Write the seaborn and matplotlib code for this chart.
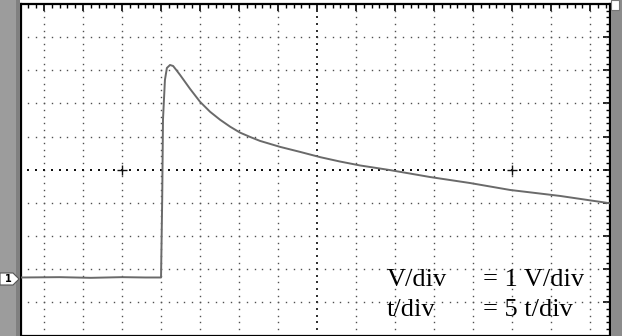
import numpy as np
import pandas as pd
import matplotlib
matplotlib.use("Agg")
import matplotlib.pyplot as plt
from matplotlib.patches import Rectangle, Polygon
import seaborn as sns

# ---- data (time in t units, 5 t per division; voltage in V, 1 V per division)
time = [-2.95, 2.0, 6.0, 10.0, 13.0, 15.0, 15.15, 15.25, 15.5, 15.75, 16.15, 16.55,
        17.05, 17.44, 18.72, 20.0, 21.28, 22.56, 23.85, 25.13, 26.41, 27.69, 30.26,
        32.8, 35.4, 37.9, 40.5, 44.35, 49.5, 54.6, 59.75, 66.15, 72.5]
volts = [-3.25, -3.24, -3.26, -3.24, -3.25, -3.25, -0.88, 1.51, 2.71, 3.07, 3.16, 3.13,
         2.98, 2.86, 2.44, 2.05, 1.75, 1.51, 1.30, 1.12, 0.99, 0.87, 0.69,
         0.54, 0.38, 0.25, 0.13, -0.01, -0.22, -0.40, -0.61, -0.79, -1.01]

label_names = ["V/div", "t/div"]
label_values = ["= 1 V/div", "= 5 t/div"]

x_grid = list(range(0, 71, 5))          # vertical graticule lines
y_grid = [-4, -3, -2, -1, 1, 2, 3, 4]   # horizontal graticule lines
cross_marks = [10, 60]

df = pd.DataFrame({"time": time, "volts": volts})

sns.set_style("white")
W, H = 622, 336
fig = plt.figure(figsize=(W / 100, H / 100), dpi=100)
fig.patch.set_facecolor("white")

# side bars
fig.patches.append(Rectangle((0, 0), 20 / W, 1, transform=fig.transFigure,
                             facecolor="#9c9c9c", edgecolor="none", zorder=0))
fig.patches.append(Rectangle((16 / W, 0), 4 / W, 1, transform=fig.transFigure,
                             facecolor="#808080", edgecolor="none", zorder=0))
fig.patches.append(Rectangle((611 / W, 0), 11 / W, 1, transform=fig.transFigure,
                             facecolor="#8c8c8c", edgecolor="none", zorder=0))

ax = fig.add_axes([21 / W, 0.5 / H, 589 / W, 331.5 / H])
ax.set_facecolor("white")
ax.set_xlim(-2.95, 72.55)
ax.set_ylim(-5.0, 5.0)

# graticule dots
xs_dots = np.arange(-2, 73, 1.0)
ys_dots = np.arange(-5, 5.01, 0.2)
for yv in y_grid:
    ax.plot(xs_dots, [yv] * len(xs_dots), ls="none", marker="s", ms=1.0,
            color="#505050", mew=0)
for xv in x_grid:
    big = xv == 35
    ax.plot([xv] * len(ys_dots), ys_dots, ls="none", marker="s",
            ms=1.5 if big else 1.0, color="#333333" if big else "#505050", mew=0)
# centre horizontal line
ax.plot(xs_dots, [0] * len(xs_dots), ls="none", marker="s", ms=1.8,
        color="#111111", mew=0)
for cx in cross_marks:
    ax.plot([cx], [0], marker="+", ms=7, mew=1.0, color="#111111")

sns.lineplot(data=df, x="time", y="volts", ax=ax, color="#6a6a6a",
             linewidth=1.4, estimator=None, sort=False, zorder=5)

ax.set_xlabel("")
ax.set_ylabel("")
ax.set_xticks(x_grid)
ax.set_yticks(range(-5, 6))
ax.set_xticks(np.arange(-2, 73, 1.0), minor=True)
ax.set_yticks(np.arange(-5, 5.01, 0.2), minor=True)
ax.tick_params(which="both", direction="in", top=True, right=True,
               labelbottom=False, labelleft=False, color="black")
ax.tick_params(which="major", length=5, width=1.2)
ax.tick_params(which="minor", length=3, width=1.0)
for s in ax.spines.values():
    s.set_visible(True)
    s.set_color("black")
    s.set_linewidth(1.6)

# channel marker "1"
pts = [(0, 273), (13, 273), (19, 279), (13, 285), (0, 285)]
fig.patches.append(Polygon([(x / W, 1 - y / H) for x, y in pts], closed=True,
                           transform=fig.transFigure, facecolor="white",
                           edgecolor="#555555", linewidth=0.8, zorder=3))
fig.text(8 / W, 1 - 279 / H, "1", ha="center", va="center", fontsize=7,
         fontweight="bold", color="black", family="DejaVu Sans")

# top-right notch
fig.patches.append(Rectangle((611 / W, 1 - 10 / H), 8 / W, 10 / H,
                             transform=fig.transFigure, facecolor="white",
                             edgecolor="#777777", linewidth=0.8, zorder=3))

# settings text
for i, (n, v) in enumerate(zip(label_names, label_values)):
    base = 285.5 + 30 * i
    fig.text(387 / W, 1 - base / H, n, ha="left", va="baseline",
             fontsize=19, family="Liberation Serif", color="black")
    fig.text(483 / W, 1 - base / H, v, ha="left", va="baseline",
             fontsize=19, family="Liberation Serif", color="black")

fig.savefig("out.png", dpi=100, facecolor="white")
